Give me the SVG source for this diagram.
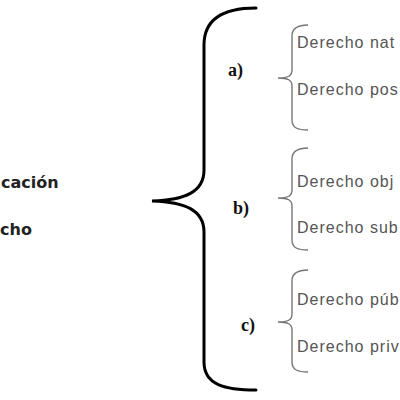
<svg xmlns="http://www.w3.org/2000/svg" width="400" height="400" viewBox="0 0 400 400">
<style>
.big{fill:none;stroke:#000;stroke-width:3;stroke-linecap:round}
.small{fill:none;stroke:#777;stroke-width:1.4}
.lab{font-family:"Liberation Serif",serif;font-weight:bold;font-size:18px;fill:#111}
.item{font-family:"Liberation Sans",Arial,sans-serif;font-size:16px;fill:#555;letter-spacing:1px}
.title{font-family:"DejaVu Sans",Verdana,sans-serif;font-weight:bold;font-size:16px;fill:#222}
</style>
<rect width="400" height="400" fill="#fff"/>
<g id="root">
<text class="title" x="1" y="188">cación</text>
<text class="title" x="0" y="235">cho</text>
</g>
<g id="connectors">
<path class="big" d="M256,8 C225,8 204,18 204,45 L204,170 C204,192 185,200 152,201 C185,202 204,210 204,232 L204,362 C204,385 225,390 256,390"/>
<path class="small" d="M308,25 C298,25 292,28 292,36 L292,70 C292,76 288,78 278,78 C288,78 292,80 292,86 L292,120 C292,128 298,130 308,130"/>
<path class="small" d="M308,148 C298,148 292,151 292,159 L292,190 C292,196 288,198 278,198 C288,198 292,200 292,206 L292,240 C292,248 298,250 308,250"/>
<path class="small" d="M308,270 C298,270 292,273 292,281 L292,314 C292,320 288,322 278,322 C288,322 292,324 292,330 L292,362 C292,370 298,372 308,372"/>
</g>
<g id="node-a">
<text class="lab" x="228" y="76">a)</text>
<text class="item" x="297" y="48">Derecho nat</text>
<text class="item" x="297" y="95">Derecho pos</text>
</g>
<g id="node-b">
<text class="lab" x="233" y="214">b)</text>
<text class="item" x="297" y="187">Derecho obj</text>
<text class="item" x="297" y="233">Derecho sub</text>
</g>
<g id="node-c">
<text class="lab" x="241" y="331">c)</text>
<text class="item" x="297" y="305">Derecho púb</text>
<text class="item" x="297" y="352">Derecho priv</text>
</g>
</svg>
